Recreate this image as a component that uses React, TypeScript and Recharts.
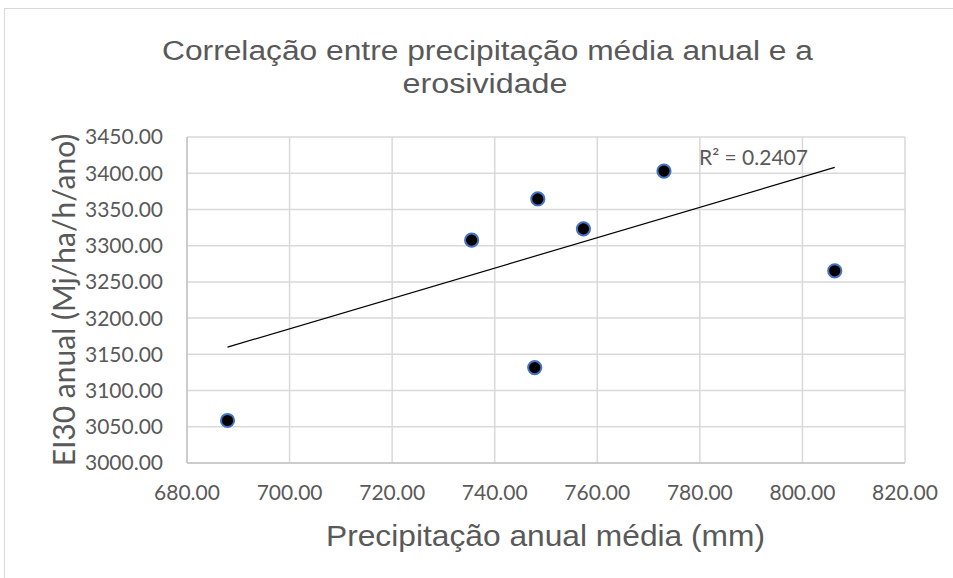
import React from 'react';
import { ScatterChart, Scatter, XAxis, YAxis, CartesianGrid } from 'recharts';

// Precipitação anual média (mm) and EI30 anual values
const precipitation = [687.9, 735.5, 747.8, 748.4, 757.3, 773.0, 806.3];
const erosivity = [3058.7, 3307.6, 3131.7, 3364.5, 3323.2, 3403.0, 3265.3];

// Trendline end points as drawn in the chart
const trendX = [687.9, 806.3];
const trendY = [3160, 3408];

const xTicks = [680, 700, 720, 740, 760, 780, 800, 820];
const yTicks = [3000, 3050, 3100, 3150, 3200, 3250, 3300, 3350, 3400, 3450];

const titleLines = ['Correlação entre precipitação média anual e a', 'erosividade'];
const xLabel = 'Precipitação anual média (mm)';
const yLabel = 'EI30 anual (Mj/ha/h/ano)';
const r2Label = 'R² = 0.2407';

const points = precipitation.map((x, i) => ({ x, y: erosivity[i] }));
const trend = trendX.map((x, i) => ({ x, y: trendY[i] }));

const Dot = (props: any) => {
  const { cx, cy } = props;
  if (cx == null || cy == null) return <g />;
  return <circle cx={cx} cy={cy} r={6.6} fill="#000" stroke="#4472c4" strokeWidth={2} />;
};

const NoShape = () => <g />;

const tickStyle = { fill: '#595959', fontSize: 21, fontFamily: 'Lato' };

export default function App() {
  return (
    <div style={{ position: 'absolute', left: 0, top: 0, width: 953, height: 578, background: '#fff', overflow: 'hidden' }}>
      <div
        style={{
          position: 'absolute',
          left: 4,
          top: 8,
          width: 1000,
          height: 620,
          border: '1px solid #d9d9d9',
          boxSizing: 'border-box',
        }}
      />
      <div style={{ position: 'absolute', left: 0, top: 0 }}>
        <ScatterChart width={953} height={578} margin={{ top: 137, right: 48, bottom: 85, left: 100 }}>
          <CartesianGrid stroke="#d9d9d9" strokeWidth={1.5} horizontal vertical />
          <XAxis
            type="number"
            dataKey="x"
            domain={[680, 820]}
            ticks={xTicks}
            interval={0}
            allowDataOverflow
            tickFormatter={(v: number) => v.toFixed(2)}
            axisLine={{ stroke: '#c4c4c4', strokeWidth: 1.5 }}
            tickLine={false}
            tickMargin={16}
            tick={tickStyle}
            height={30}
          />
          <YAxis
            type="number"
            dataKey="y"
            domain={[3000, 3450]}
            ticks={yTicks}
            interval={0}
            allowDataOverflow
            tickFormatter={(v: number) => v.toFixed(2)}
            axisLine={{ stroke: '#c4c4c4', strokeWidth: 1.5 }}
            tickLine={false}
            tickMargin={18}
            tick={tickStyle}
            width={87}
          />
          <Scatter data={points} shape={Dot} isAnimationActive={false} />
          <Scatter
            data={trend}
            shape={NoShape}
            line={{ stroke: '#000', strokeWidth: 1.2 }}
            isAnimationActive={false}
          />
        </ScatterChart>
      </div>
      <svg width={953} height={578} style={{ position: 'absolute', left: 0, top: 0, pointerEvents: 'none' }}>
        <text
          x={487.5}
          y={60}
          textAnchor="middle"
          fill="#595959"
          fontSize={27}
          fontFamily="Liberation Sans"
          textLength={651}
          lengthAdjust="spacingAndGlyphs"
        >
          {titleLines[0]}
        </text>
        <text
          x={485}
          y={93}
          textAnchor="middle"
          fill="#595959"
          fontSize={27}
          fontFamily="Liberation Sans"
          textLength={165}
          lengthAdjust="spacingAndGlyphs"
        >
          {titleLines[1]}
        </text>
        <text
          x={545.5}
          y={546}
          textAnchor="middle"
          fill="#595959"
          fontSize={29}
          fontFamily="Liberation Sans"
          textLength={439}
          lengthAdjust="spacingAndGlyphs"
        >
          {xLabel}
        </text>
        <text
          x={75}
          y={300}
          textAnchor="middle"
          fill="#595959"
          fontSize={30}
          fontFamily="Lato"
          transform="rotate(-90 75 300)"
        >
          {yLabel}
        </text>
        <text x={699} y={165} fill="#595959" fontSize={21} fontFamily="Lato">
          {r2Label}
        </text>
      </svg>
    </div>
  );
}
